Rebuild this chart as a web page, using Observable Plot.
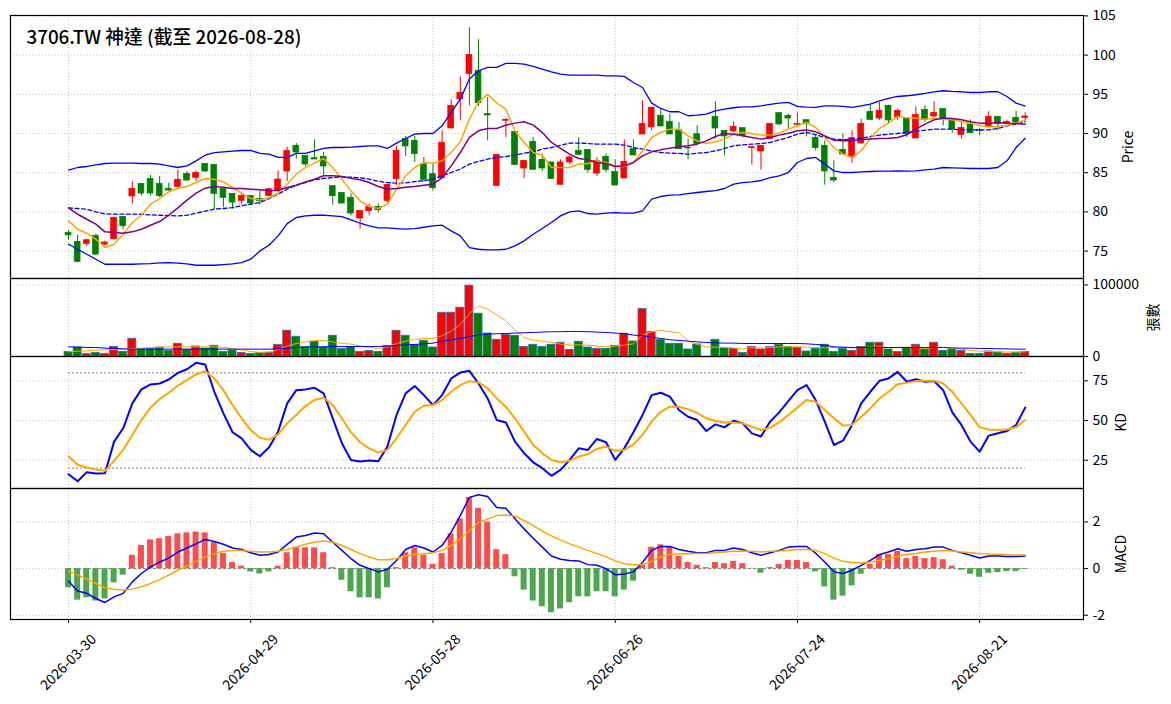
<!DOCTYPE html>
<html><head><meta charset="utf-8">
<script src="https://cdn.jsdelivr.net/npm/d3@7"></script>
<script src="https://cdn.jsdelivr.net/npm/@observablehq/plot@0.6"></script>
<style>body{margin:0;background:#fff} #chart{position:relative;background:#fff} #chart svg{display:block;overflow:visible;position:relative}</style>
</head><body><div id="chart"></div>
<script>
const title = "3706.TW 神達 (截至 2026-08-28)";
const tickIndex = [0, 20, 40, 60, 80, 100];
const tickLabels = ["2026-03-30", "2026-04-29", "2026-05-28", "2026-06-26", "2026-07-24", "2026-08-21"];
const priceTicks = [75, 80, 85, 90, 95, 100, 105];
const volTicks = [0, 100000];
const kdTicks = [25, 50, 75];
const kdLevels = [80, 20];
const macdTicks = [-2, 0, 2];
const macdLevels = [0];

const openP = [77.3,76.17,75.91,76.94,75.83,76.51,79.36,81.96,83.57,84.21,83.57,82.94,83.19,84.85,84.34,86.13,86.0,82.94,82.3,81.4,82.04,81.66,82.04,82.68,85.15,
88.43,87.15,86.85,87.02,83.28,82.43,81.79,79.15,80.09,80.64,81.4,84.17,89.28,89.06,86.09,84.81,84.3,90.64,94.34,97.57,98.0,92.47,83.32,91.62,90.21,85.53,88.94,86.64,86.3,83.45,
86.3,87.79,87.91,84.89,87.02,85.11,84.26,88.0,89.87,90.77,92.26,91.49,90.47,88.17,89.91,88.64,92.13,90.34,90.26,90.68,88.13,87.7,89.28,92.6,92.26,91.11,91.7,89.45,88.43,
84.34,87.91,86.94,88.72,92.77,91.91,93.53,92.09,91.91,89.36,92.98,92.17,93.11,91.74,89.79,91.15,90.43,90.85,92.13,91.19,92.0,91.96];
const highP = [77.6,77.02,76.51,77.15,76.26,79.32,79.36,83.83,83.57,84.68,84.51,83.66,85.32,85.15,85.19,86.13,86.0,82.94,82.3,82.34,82.04,82.68,83.02,85.23,88.26,
88.72,87.15,89.19,87.57,83.28,82.43,82.34,80.13,80.98,80.98,83.53,88.34,89.62,89.62,86.94,86.09,90.34,94.3,97.23,103.49,101.96,94.6,87.28,91.91,90.21,86.51,89.49,87.36,86.3,86.64,
87.15,89.49,87.91,86.94,87.36,86.64,89.19,89.19,94.17,93.28,93.19,92.47,91.4,89.28,90.98,88.64,94.04,90.34,91.49,90.68,88.26,88.43,91.23,92.6,92.47,92.6,91.7,89.79,89.06,
86.51,89.91,90.34,91.83,93.62,93.96,93.62,93.11,91.91,93.4,93.53,94.04,93.11,91.74,91.4,91.74,90.64,92.77,92.13,91.7,92.85,92.64];
const lowP = [76.4,73.49,75.57,74.47,75.66,76.43,77.7,80.98,82.0,82.0,81.83,82.64,83.06,83.87,83.87,85.02,80.34,80.55,80.34,80.89,80.85,80.85,81.96,82.47,83.87,
86.72,85.79,86.68,84.68,80.85,81.06,79.49,77.79,79.49,79.87,81.19,83.32,87.06,86.3,83.83,82.68,84.17,90.55,91.62,93.53,93.45,89.06,83.32,89.49,86.0,84.26,85.36,85.15,84.13,83.45,
86.0,87.15,84.94,84.51,85.02,83.36,84.26,87.19,89.87,90.34,90.89,89.87,88.0,86.64,88.64,88.64,89.28,87.15,90.13,89.45,85.96,85.32,89.19,90.98,90.55,90.98,89.57,87.79,83.4,
83.74,87.32,86.21,88.6,91.66,91.66,91.15,91.66,89.49,89.36,91.4,92.04,90.98,90.04,89.28,90.04,89.7,90.77,90.34,91.19,91.19,91.62];
const closeP = [77.0,73.62,76.38,74.55,76.09,79.23,78.17,82.94,82.34,82.34,82.0,82.72,84.09,84.0,84.98,85.15,82.3,81.79,81.19,82.04,81.06,81.36,82.89,84.13,87.79,
87.57,86.04,86.68,85.79,82.0,81.06,79.79,80.13,80.64,80.21,83.45,87.79,88.34,87.36,84.09,83.02,88.81,93.53,95.19,100.0,93.87,92.3,87.28,91.74,86.0,86.51,85.36,85.53,84.21,86.3,
86.94,87.28,85.36,86.51,85.36,83.36,86.38,87.19,91.23,93.28,90.89,89.87,88.0,88.09,88.64,88.64,90.64,89.62,90.85,89.7,88.26,88.43,91.23,91.15,91.91,91.19,91.19,88.13,85.15,
84.0,87.32,89.4,91.23,91.74,92.89,91.66,92.89,89.91,92.38,91.7,92.64,91.83,90.55,90.72,90.04,90.34,92.13,91.19,91.49,91.4,92.17];
const ma5 = [78.85,77.79,77.28,76.51,75.45,75.87,77.15,78.64,79.57,80.98,81.7,82.55,82.98,83.23,83.74,84.26,84.17,83.83,83.11,82.38,81.7,81.53,81.79,82.38,83.53,
84.81,85.66,86.21,86.81,85.66,84.17,82.68,81.4,80.68,80.43,80.98,82.89,84.6,85.66,86.3,86.21,86.51,87.57,88.94,91.83,94.04,94.98,93.87,93.11,90.34,88.85,87.57,87.23,85.66,85.66,
85.66,86.09,86.17,86.51,86.3,85.79,85.79,86.3,87.79,89.49,90.13,90.55,90.55,89.7,89.06,88.72,88.94,89.28,89.91,90.13,90.0,89.79,89.79,90.04,90.55,90.98,91.4,90.77,89.49,
88.21,87.36,86.94,87.79,89.36,90.64,91.32,92.17,92.0,91.96,91.83,91.91,91.83,91.74,91.49,91.32,90.98,90.85,90.89,91.06,91.32,91.7];
const ma10 = [80.51,79.7,79.06,78.43,77.45,77.36,77.28,77.45,77.79,78.3,78.77,79.57,80.51,81.49,82.38,83.02,83.23,83.15,82.98,82.98,82.89,82.81,82.7,82.75,83.1,
83.4,83.83,84.17,84.6,84.6,84.51,84.3,84.09,83.74,83.23,82.89,82.98,83.15,83.23,83.4,83.53,84.38,85.87,87.57,89.49,90.34,90.64,90.64,91.06,91.32,91.49,91.06,90.13,88.85,88.09,
87.36,86.81,86.64,86.3,86.17,85.79,85.87,86.3,87.15,87.66,87.91,88.13,88.3,88.43,88.64,89.06,89.62,90.0,89.91,89.7,89.49,89.28,89.49,89.79,90.04,90.34,90.43,90.21,89.7,
89.15,89.06,89.06,89.19,89.28,89.36,89.4,89.49,89.83,90.55,91.19,91.74,91.96,91.91,91.74,91.49,91.32,91.32,91.4,91.32,91.28,91.19];
const bbUpper = [85.32,85.66,85.79,86.0,86.17,86.21,86.21,86.21,86.17,86.17,86.09,85.87,85.66,85.87,86.51,87.23,87.57,87.66,87.74,87.83,87.83,87.45,87.36,86.94,86.94,
87.45,87.45,87.79,88.09,88.21,88.21,88.26,88.34,88.43,88.43,88.09,88.77,89.36,89.91,90.0,90.0,90.98,92.68,94.38,96.94,98.0,98.43,98.43,98.94,98.94,98.85,98.55,98.21,97.87,97.57,
97.45,97.45,97.45,97.45,97.36,97.36,97.28,96.51,95.87,93.87,93.19,92.77,92.77,92.26,92.34,92.47,92.89,93.11,93.28,93.4,93.4,93.53,93.7,93.87,93.96,93.45,93.36,93.32,93.53,
93.53,93.45,93.32,93.53,93.74,94.17,94.47,94.72,94.81,94.94,95.11,95.32,95.45,95.36,95.32,95.23,95.23,95.32,95.32,94.72,93.87,93.49];
const bbMid = [80.51,80.43,80.34,80.0,79.74,79.7,79.7,79.7,79.7,79.62,79.57,79.53,79.49,79.57,79.83,80.09,80.34,80.43,80.55,80.77,80.98,81.19,81.7,82.26,82.89,
83.4,83.74,84.09,84.26,84.38,84.47,84.43,84.34,84.17,83.91,83.74,83.66,83.7,83.87,83.96,84.17,84.6,85.02,85.45,86.09,86.43,86.72,86.94,87.06,87.23,87.49,87.66,88.0,88.21,88.5,
88.77,88.77,88.72,88.64,88.64,88.64,88.51,88.21,88.0,87.79,87.57,87.49,87.45,87.36,87.49,87.57,87.79,88.09,88.43,88.55,88.64,88.72,88.85,89.19,89.49,89.91,90.13,89.85,89.49,
89.28,89.19,89.28,89.36,89.62,89.79,89.91,90.0,90.13,90.26,90.43,90.55,90.55,90.55,90.47,90.47,90.43,90.47,90.64,90.98,91.19,91.49];
const bbLower = [75.87,75.23,74.6,73.96,73.32,73.32,73.32,73.32,73.36,73.4,73.49,73.53,73.45,73.36,73.19,73.19,73.19,73.28,73.36,73.53,73.96,75.02,75.74,76.94,78.5,
79.28,79.49,79.57,79.57,79.49,79.4,78.98,78.55,78.21,77.96,77.96,77.87,77.79,77.87,78.04,78.21,78.3,77.57,76.94,75.45,75.23,75.15,75.15,75.23,75.66,76.3,77.15,77.87,78.64,79.49,
80.0,80.13,79.79,79.7,79.83,79.91,79.83,79.83,80.13,81.62,81.96,82.13,82.17,82.34,82.47,82.6,82.72,82.98,83.53,83.74,83.83,84.0,84.38,84.6,85.02,86.3,86.81,86.94,86.09,
85.23,85.02,85.02,85.11,85.15,85.19,85.19,85.23,85.19,85.23,85.36,85.45,85.66,85.62,85.57,85.53,85.53,85.53,85.66,86.51,88.21,89.4];
const volume = [6500,12600,3300,5100,3300,13500,6500,24800,10300,10300,
12600,7900,17800,9300,14000,11200,15000,6500,8400,5100,
3700,5100,5100,16400,36000,27600,13500,20600,12600,29000,
10700,13500,6500,7900,6500,14500,36000,29000,15900,22000,
12600,61200,61200,68200,99000,59800,32200,23400,30400,29000,
13500,16400,13500,16400,19200,9300,20600,12600,10700,10700,
15000,31800,21000,66400,34100,23400,17800,17800,9800,16800,
0,23400,12100,10700,5100,13500,9800,13100,16400,13500,
12100,7000,10700,16400,6500,10700,7900,13500,19200,19200,
9800,6500,12100,16400,9800,19200,7900,9800,7900,3700,
3700,7000,5600,3700,5100,6500];
const volMa5 = [6500,7500,7900,8900,9300,9800,10300,11200,11700,12600,13100,13500,13500,13500,13500,13500,13500,12600,11200,9300,7000,5600,6500,9800,14500,
18200,20500,22400,22400,20500,18200,17300,14500,12600,11200,13500,18200,21500,23800,25200,25200,29000,35500,44800,60200,70500,66300,57900,50000,36900,26600,22900,21500,19600,17300,
15900,16300,15900,14500,13500,14500,15900,17700,29900,34600,36400,34600,33200,21500,16800,13500,13100,12600,12100,10300,12600,11700,12600,13500,13500,13500,13100,12600,12100,
12600,12600,12100,12600,13100,13500,12600,12100,13100,13100,11200,12600,12600,11200,10300,8400,7500,7000,6500,6100,6500,6500];
const volMa20 = [13500,13100,12600,12600,11700,11200,10700,10300,10300,10300,10300,10300,10300,10300,10300,10300,10300,10300,10300,10300,10300,10300,10300,10700,11700,
12600,13100,13500,13500,14000,14000,14000,14000,14000,14000,14500,15400,16300,16800,17700,18700,21500,23400,25200,28000,29900,31300,31800,32200,32700,33200,33600,34100,34600,34600,
35000,35000,34600,34100,33600,32700,31800,29900,29000,27100,25200,23400,22400,21500,20500,19600,19100,18700,18700,18200,18200,18200,18200,18200,18200,18200,17700,16800,15900,
13500,13100,12600,12600,12600,12600,12600,12600,12600,12600,12600,12600,12600,12100,11700,11700,11200,11200,10700,10700,10300,10300];
const kValues = [16.2,11.8,17.5,16.6,16.8,36.7,45.1,60.8,69.6,72.7,73.3,75.8,80.0,82.3,86.3,85.3,68.1,54.5,42.6,38.8,31.5,27.5,33.0,43.0,60.8,
69.1,69.6,70.6,67.1,51.4,35.7,25.2,24.2,24.8,24.4,33.6,53.5,67.1,71.7,66.0,59.7,66.0,76.5,80.2,81.3,73.3,63.9,50.3,48.8,36.7,29.4,23.7,20.0,15.2,18.9,
25.2,32.5,31.5,38.4,36.3,25.2,32.5,42.6,53.5,66.0,67.5,65.0,56.6,52.4,50.3,43.4,47.6,45.7,49.9,48.2,41.9,39.9,49.3,55.1,62.2,69.1,72.3,
62.9,49.3,34.6,37.3,47.2,60.8,68.1,75.0,76.5,80.6,74.4,76.0,74.4,74.8,69.1,55.1,47.2,36.7,30.4,40.5,42.0,43.4,47.2,58.1];
const dValues = [27.3,22.1,20.4,19.1,18.3,24.6,31.5,40.9,50.3,58.1,63.5,67.5,71.9,75.4,79.0,81.1,76.5,69.1,59.7,51.4,44.0,39.2,37.8,41.3,48.2,
53.5,59.1,62.9,64.3,59.7,51.4,42.6,36.3,32.5,29.8,31.5,38.8,47.2,55.5,59.3,59.7,62.9,68.1,72.3,74.8,74.0,70.2,63.9,58.7,51.4,43.0,34.6,29.4,25.2,23.7,
24.6,27.3,28.8,32.1,33.6,30.9,31.5,35.0,40.9,49.3,55.5,58.7,58.7,57.0,54.9,51.4,49.7,48.8,48.8,48.2,46.1,44.0,45.5,48.8,53.5,58.1,62.9,61.8,56.6,
51.4,46.8,47.2,52.4,57.6,63.9,68.1,72.9,73.7,74.8,75.0,75.0,73.3,68.1,60.8,53.5,45.7,44.4,44.0,44.4,45.7,50.3];
const macdDif = [-0.54,-0.96,-1.06,-1.28,-1.45,-1.21,-1.06,-0.57,-0.21,0.07,0.28,0.45,0.71,0.88,1.06,1.25,1.16,1.04,0.88,0.82,0.68,0.57,0.60,0.71,1.04,
1.35,1.42,1.52,1.49,1.13,0.78,0.43,0.14,0.0,-0.14,-0.03,0.35,0.82,0.99,0.88,0.71,0.99,1.56,2.27,3.05,3.16,3.09,2.62,2.58,2.13,1.70,1.30,0.92,0.54,0.40,
0.35,0.33,0.17,0.14,0.0,-0.26,-0.23,-0.14,0.26,0.78,0.95,0.95,0.82,0.74,0.68,0.68,0.78,0.78,0.88,0.82,0.68,0.57,0.68,0.78,0.92,0.95,0.95,0.66,0.28,
-0.14,-0.21,-0.07,0.14,0.35,0.60,0.71,0.85,0.74,0.82,0.85,0.92,0.92,0.78,0.68,0.57,0.45,0.54,0.54,0.52,0.52,0.54];
const macdSignal = [-0.11,-0.28,-0.45,-0.64,-0.82,-0.88,-0.92,-0.88,-0.78,-0.64,-0.47,-0.28,-0.07,0.11,0.31,0.50,0.64,0.74,0.78,0.77,0.74,0.71,0.71,0.74,0.82,
0.92,1.04,1.13,1.18,1.13,0.99,0.82,0.64,0.50,0.38,0.38,0.43,0.54,0.60,0.64,0.68,0.78,0.99,1.28,1.62,1.98,2.12,2.27,2.30,2.24,2.06,1.84,1.60,1.40,1.22,
1.06,0.92,0.78,0.64,0.50,0.33,0.21,0.17,0.17,0.31,0.50,0.60,0.62,0.64,0.65,0.65,0.68,0.71,0.74,0.75,0.74,0.71,0.74,0.75,0.78,0.82,0.82,0.78,0.64,
0.45,0.31,0.26,0.24,0.28,0.35,0.43,0.52,0.60,0.65,0.71,0.74,0.77,0.75,0.71,0.68,0.64,0.62,0.61,0.60,0.58,0.58];
const macdHist = [-0.82,-1.35,-1.25,-1.39,-1.30,-0.61,-0.28,0.57,0.99,1.23,1.28,1.38,1.49,1.53,1.57,1.53,1.11,0.65,0.26,0.10,-0.14,-0.23,-0.14,0.10,0.68,
0.92,0.89,0.89,0.68,0.04,-0.50,-0.99,-1.25,-1.25,-1.30,-0.82,0.04,0.68,0.89,0.57,0.18,0.64,1.49,2.13,3.05,2.58,1.99,0.81,0.60,-0.35,-0.92,-1.39,-1.63,-1.89,-1.73,
-1.46,-1.21,-1.21,-0.99,-0.99,-1.21,-0.92,-0.54,0.15,0.91,1.02,0.91,0.52,0.26,0.14,0.04,0.26,0.21,0.31,0.21,0.01,-0.20,0.04,0.17,0.35,0.35,0.26,-0.14,-0.78,
-1.35,-1.18,-0.74,-0.24,0.18,0.60,0.60,0.74,0.43,0.52,0.43,0.47,0.38,0.10,-0.07,-0.24,-0.37,-0.20,-0.17,-0.13,-0.13,-0.03];

const rows = openP.map((o, i) => ({
  i, open: o, high: highP[i], low: lowP[i], close: closeP[i],
  up: closeP[i] >= o,
  ma5: ma5[i], ma10: ma10[i], up2: bbUpper[i], mid: bbMid[i], lo2: bbLower[i],
  vol: volume[i], vma5: volMa5[i], vma20: volMa20[i],
  k: kValues[i], d: dValues[i],
  dif: macdDif[i], sig: macdSignal[i], hist: macdHist[i]
}));
const first = rows[0].i, last = rows[rows.length - 1].i;

const RED = "#ff0000", GREEN = "#008000";
const candleColor = d => d.up ? RED : GREEN;
const W = 1171, ML = 10, MR = 88;
const xDomain = [-6.37, 111.4];
const FONT = "'Noto Sans CJK TC','Noto Sans',sans-serif";
const gridStyle = {stroke: "#b0b0b0", strokeOpacity: 1, strokeWidth: 0.8, strokeDasharray: "1,2.2"};

function panel({height, marginTop = 0, marginBottom = 0, yDomain, yTicks, label, labelDx, marks}) {
  return Plot.plot({
    width: W, height, marginLeft: ML, marginRight: MR, marginTop, marginBottom,
    x: {domain: xDomain, axis: null},
    y: {domain: yDomain, axis: null},
    style: {fontFamily: FONT, fontSize: "14px", background: "transparent", color: "black", overflow: "visible"},
    marks: [
      Plot.gridX(tickIndex, gridStyle),
      Plot.gridY(yTicks, gridStyle),
      ...marks,
      Plot.axisY(yTicks, {anchor: "right", tickSize: 4, tickPadding: 5, tickFormat: d => String(d), label: null, fontSize: 14}),
      Plot.text([label], {frameAnchor: "right", dx: labelDx, rotate: -90, textAnchor: "middle", lineAnchor: "middle", fontSize: 14}),
      Plot.frame({stroke: "black", strokeWidth: 1.2})
    ]
  });
}

const pricePlot = panel({
  height: 278, marginTop: 15, yDomain: [71.5, 105.05], yTicks: priceTicks, label: "Price", labelDx: 45,
  marks: [
    Plot.ruleX(rows, {x: "i", y1: "low", y2: "high", stroke: candleColor, strokeWidth: 1}),
    Plot.rect(rows, {x1: d => d.i - 0.32, x2: d => d.i + 0.32, y1: "open", y2: "close", fill: candleColor, stroke: candleColor, strokeWidth: 0.7}),
    Plot.line(rows, {x: "i", y: "up2", stroke: "#0000ff", strokeWidth: 1.3}),
    Plot.line(rows, {x: "i", y: "lo2", stroke: "#0000ff", strokeWidth: 1.3}),
    Plot.line(rows, {x: "i", y: "mid", stroke: "#0000ff", strokeWidth: 1.3, strokeDasharray: "4,2.5"}),
    Plot.line(rows, {x: "i", y: "ma5", stroke: "#ffa500", strokeWidth: 1.5}),
    Plot.line(rows, {x: "i", y: "ma10", stroke: "#800080", strokeWidth: 1.5}),
    Plot.text([title], {frameAnchor: "top-left", dx: 16, dy: 15, textAnchor: "start", lineAnchor: "top", fontSize: 18.8, fontWeight: 500})
  ]
});

const volPlot = panel({
  height: 78, yDomain: [0, 109000], yTicks: volTicks, label: "張數", labelDx: 70,
  marks: [
    Plot.rect(rows.filter(d => d.vol > 0), {x1: d => d.i - 0.44, x2: d => d.i + 0.44, y1: 0, y2: "vol", fill: candleColor, stroke: "#2b73b0", strokeWidth: 0.8}),
    Plot.line(rows, {x: "i", y: "vma5", stroke: "#ffa500", strokeWidth: 1}),
    Plot.line(rows, {x: "i", y: "vma20", stroke: "#0000ff", strokeWidth: 1})
  ]
});

const kdPlot = panel({
  height: 132, yDomain: [7.2, 90.3], yTicks: kdTicks, label: "KD", labelDx: 38,
  marks: [
    Plot.ruleY(kdLevels, {x1: first, x2: last, stroke: "#808080", strokeWidth: 1, strokeDasharray: "2,2"}),
    Plot.line(rows, {x: "i", y: "k", stroke: "#0000ff", strokeWidth: 2}),
    Plot.line(rows, {x: "i", y: "d", stroke: "#ffa500", strokeWidth: 2})
  ]
});

const macdPlot = panel({
  height: 216, marginBottom: 85, yDomain: [-2.18, 3.43], yTicks: macdTicks, label: "MACD", labelDx: 38,
  marks: [
    Plot.ruleY(macdLevels, {x1: first, x2: last, stroke: "#808080", strokeWidth: 1, strokeDasharray: "3,2"}),
    Plot.rect(rows, {x1: d => d.i - 0.33, x2: d => d.i + 0.33, y1: 0, y2: "hist", fill: d => d.hist >= 0 ? "#ff4d4d" : "#4da64d"}),
    Plot.line(rows, {x: "i", y: "dif", stroke: "#0000ff", strokeWidth: 1.5}),
    Plot.line(rows, {x: "i", y: "sig", stroke: "#ffa500", strokeWidth: 1.5}),
    Plot.axisX(tickIndex, {anchor: "bottom", tickSize: 4, tickFormat: () => "", label: null}),
    Plot.text(tickIndex, {x: d => d, text: (d, j) => tickLabels[j], frameAnchor: "bottom", dy: 43, rotate: -45, textAnchor: "middle", lineAnchor: "middle", fontSize: 14})
  ]
});

const chart = document.getElementById("chart");
[pricePlot, volPlot, kdPlot, macdPlot].forEach(p => chart.appendChild(p));
</script>
</body></html>
